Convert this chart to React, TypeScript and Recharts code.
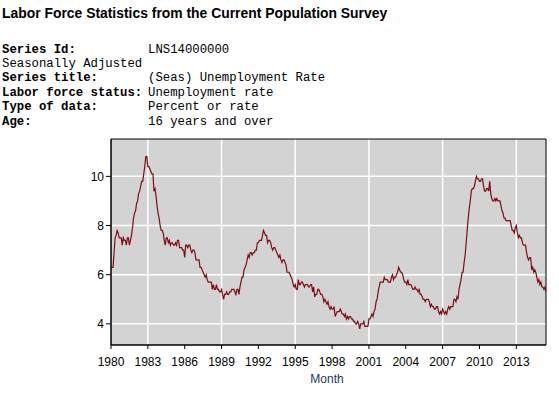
import React from "react";
import {
  LineChart,
  Line,
  XAxis,
  YAxis,
  CartesianGrid,
  ReferenceArea,
} from "recharts";

const startYear = 1980;

// Monthly seasonally adjusted unemployment rate, Jan 1980 - Jun 2015
const rates1980s: number[] = [
  6.3, 6.3, 6.3, 6.9, 7.5, 7.6, 7.8, 7.7, 7.5, 7.5, 7.5, 7.2,
  7.5, 7.4, 7.4, 7.2, 7.5, 7.5, 7.2, 7.4, 7.6, 7.9, 8.3, 8.5,
  8.6, 8.9, 9.0, 9.3, 9.4, 9.6, 9.8, 9.8, 10.1, 10.4, 10.8, 10.8,
  10.4, 10.4, 10.3, 10.2, 10.1, 10.1, 9.4, 9.5, 9.2, 8.8, 8.5, 8.3,
  8.0, 7.8, 7.8, 7.7, 7.4, 7.2, 7.5, 7.5, 7.3, 7.4, 7.2, 7.3,
  7.3, 7.2, 7.2, 7.3, 7.2, 7.4, 7.4, 7.1, 7.1, 7.1, 7.0, 7.0,
  6.7, 7.2, 7.2, 7.1, 7.2, 7.2, 7.0, 6.9, 7.0, 7.0, 6.9, 6.6,
  6.6, 6.6, 6.6, 6.3, 6.3, 6.2, 6.1, 6.0, 5.9, 6.0, 5.8, 5.7,
  5.7, 5.7, 5.7, 5.4, 5.6, 5.4, 5.4, 5.6, 5.4, 5.4, 5.3, 5.3,
  5.4, 5.2, 5.0, 5.2, 5.2, 5.3, 5.2, 5.2, 5.3, 5.3, 5.4, 5.4,
];
const rates1990s: number[] = [
  5.4, 5.3, 5.2, 5.4, 5.4, 5.2, 5.5, 5.7, 5.9, 5.9, 6.2, 6.3,
  6.4, 6.6, 6.8, 6.7, 6.9, 6.9, 6.8, 6.9, 6.9, 7.0, 7.0, 7.3,
  7.3, 7.4, 7.4, 7.4, 7.6, 7.8, 7.7, 7.6, 7.6, 7.3, 7.4, 7.4,
  7.3, 7.1, 7.0, 7.1, 7.1, 7.0, 6.9, 6.8, 6.7, 6.8, 6.6, 6.5,
  6.6, 6.6, 6.5, 6.4, 6.1, 6.1, 6.1, 6.0, 5.9, 5.8, 5.6, 5.5,
  5.6, 5.4, 5.4, 5.8, 5.6, 5.6, 5.7, 5.7, 5.6, 5.5, 5.6, 5.6,
  5.6, 5.5, 5.5, 5.6, 5.6, 5.3, 5.5, 5.1, 5.2, 5.2, 5.4, 5.4,
  5.3, 5.2, 5.2, 5.1, 4.9, 5.0, 4.9, 4.8, 4.9, 4.7, 4.6, 4.7,
  4.6, 4.6, 4.7, 4.3, 4.4, 4.5, 4.5, 4.5, 4.6, 4.5, 4.4, 4.4,
  4.3, 4.4, 4.2, 4.3, 4.2, 4.3, 4.3, 4.2, 4.2, 4.1, 4.1, 4.0,
];
const rates2000s: number[] = [
  4.0, 4.1, 4.0, 3.8, 4.0, 4.0, 4.0, 4.1, 3.9, 3.9, 3.9, 3.9,
  4.2, 4.2, 4.3, 4.4, 4.3, 4.5, 4.6, 4.9, 5.0, 5.3, 5.5, 5.7,
  5.7, 5.7, 5.7, 5.9, 5.8, 5.8, 5.8, 5.7, 5.7, 5.7, 5.9, 6.0,
  5.8, 5.9, 5.9, 6.0, 6.1, 6.3, 6.2, 6.1, 6.1, 6.0, 5.8, 5.7,
  5.7, 5.6, 5.8, 5.6, 5.6, 5.6, 5.5, 5.4, 5.4, 5.5, 5.4, 5.4,
  5.3, 5.4, 5.2, 5.2, 5.1, 5.0, 5.0, 4.9, 5.0, 5.0, 5.0, 4.9,
  4.7, 4.8, 4.7, 4.7, 4.6, 4.6, 4.7, 4.7, 4.5, 4.4, 4.5, 4.4,
  4.6, 4.5, 4.4, 4.5, 4.4, 4.6, 4.7, 4.6, 4.7, 4.7, 4.7, 5.0,
  5.0, 4.9, 5.1, 5.0, 5.4, 5.6, 5.8, 6.1, 6.1, 6.5, 6.8, 7.3,
  7.8, 8.3, 8.7, 9.0, 9.4, 9.5, 9.5, 9.6, 9.8, 10.0, 9.9, 9.9,
];
const rates2010s: number[] = [
  9.8, 9.8, 9.9, 9.9, 9.6, 9.4, 9.4, 9.5, 9.5, 9.4, 9.8, 9.3,
  9.1, 9.0, 9.0, 9.1, 9.0, 9.1, 9.0, 9.0, 9.0, 8.8, 8.6, 8.5,
  8.3, 8.3, 8.2, 8.2, 8.2, 8.2, 8.2, 8.0, 7.8, 7.8, 7.7, 7.9,
  8.0, 7.7, 7.5, 7.6, 7.5, 7.5, 7.3, 7.2, 7.2, 7.2, 6.9, 6.7,
  6.6, 6.7, 6.7, 6.2, 6.3, 6.1, 6.2, 6.1, 5.9, 5.7, 5.8, 5.6,
  5.7, 5.5, 5.5, 5.4, 5.5, 5.3,
];

const xTicks: number[] = [1980, 1983, 1986, 1989, 1992, 1995, 1998, 2001, 2004, 2007, 2010, 2013];
const yTicks: number[] = [4, 6, 8, 10];

const titleText = "Labor Force Statistics from the Current Population Survey";
const xAxisTitle = "Month";
const headerLabels: string[] = [
  "Series Id:",
  "Seasonally Adjusted",
  "Series title:",
  "Labor force status:",
  "Type of data:",
  "Age:",
];
const headerValues: string[] = [
  "LNS14000000",
  "",
  "(Seas) Unemployment Rate",
  "Unemployment rate",
  "Percent or rate",
  "16 years and over",
];
const headerBold: boolean[] = [true, false, true, true, true, true];

const allRates = [...rates1980s, ...rates1990s, ...rates2000s, ...rates2010s];
const data = allRates.map((v, i) => ({ t: startYear + i / 12, rate: v }));
const xMax = startYear + (allRates.length - 1) / 12;

const monoFont = "'Liberation Mono', 'Courier New', monospace";
const sansFont = "'Liberation Sans', Arial, sans-serif";

export default function App() {
  return (
    <div
      style={{
        position: "absolute",
        left: 0,
        top: 0,
        width: 559,
        height: 395,
        background: "#ffffff",
        overflow: "hidden",
      }}
    >
      <svg width={559} height={135} style={{ position: "absolute", left: 0, top: 0 }}>
        <text x={2} y={18.3} fontFamily={sansFont} fontWeight="bold" fontSize={13.9} fill="#000">
          {titleText}
        </text>
        {headerLabels.map((lab, i) => (
          <text
            key={"l" + i}
            x={2}
            y={52.5 + i * 14.4}
            fontFamily={monoFont}
            fontWeight={headerBold[i] ? "bold" : "normal"}
            fontSize={12.3}
            fill="#000"
          >
            {lab}
          </text>
        ))}
        {headerValues.map((val, i) => (
          <text key={"v" + i} x={148} y={52.5 + i * 14.4} fontFamily={monoFont} fontSize={12.3} fill="#000">
            {val}
          </text>
        ))}
      </svg>
      <div style={{ position: "absolute", left: 0, top: 0 }}>
        <LineChart
          width={559}
          height={395}
          data={data}
          margin={{ top: 139, right: 13, bottom: 10, left: 0 }}
        >
          <CartesianGrid
            stroke="#ffffff"
            strokeWidth={1.5}
            fill="#d3d3d3"
            fillOpacity={1}
            verticalValues={xTicks}
            horizontalValues={yTicks}
          />
          <XAxis
            dataKey="t"
            type="number"
            domain={[startYear, xMax]}
            ticks={xTicks}
            allowDataOverflow
            height={40}
            tickSize={4}
            tickMargin={8}
            stroke="#000"
            tick={{ fill: "#000", fontSize: 12, fontFamily: sansFont }}
            tickFormatter={(v: number) => String(Math.round(v))}
          />
          <YAxis
            type="number"
            domain={[3.14, 11.52]}
            ticks={yTicks}
            allowDataOverflow
            width={111}
            tickSize={5}
            tickMargin={2}
            stroke="#000"
            tick={{ fill: "#000", fontSize: 12, fontFamily: sansFont }}
          />
          <ReferenceArea
            x1={startYear}
            x2={xMax}
            y1={3.14}
            y2={11.52}
            fill="none"
            stroke="#000"
            strokeWidth={1}
            ifOverflow="visible"
          />
          <Line
            type="linear"
            dataKey="rate"
            stroke="#7d0d14"
            strokeWidth={1.2}
            dot={false}
            isAnimationActive={false}
          />
        </LineChart>
      </div>
      <svg width={559} height={395} style={{ position: "absolute", left: 0, top: 0, pointerEvents: "none" }}>
        <text x={327} y={382.5} textAnchor="middle" fontFamily={sansFont} fontSize={12} fill="#1f3864">
          {xAxisTitle}
        </text>
      </svg>
    </div>
  );
}
